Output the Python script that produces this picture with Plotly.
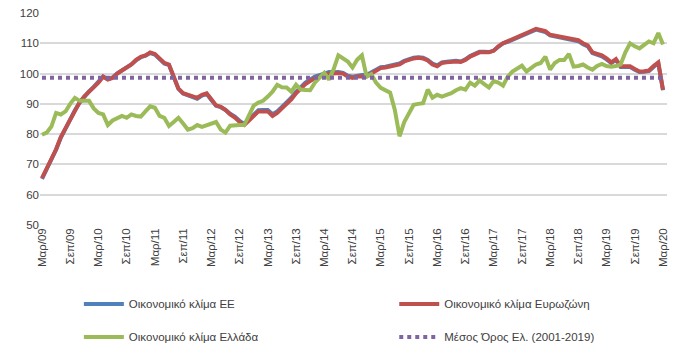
import plotly.graph_objects as go

# Month index 0 = Mar/09 ... 132 = Mar/20
tick_labels = []
for yr in range(9, 21):
    tick_labels.append(f"Μαρ/{yr:02d}")
    if yr < 20:
        tick_labels.append(f"Σεπ/{yr:02d}")
tick_positions = list(range(0, 133, 6))

eurozone = [65.5, 68.5, 72, 75, 79, 82, 85, 88, 90.5, 92.5, 94, 95.5, 97, 99, 98, 98.5,
            100, 101, 102, 103, 104.5, 105.5, 106, 107, 106.5, 105, 103.5, 103, 99, 95,
            93.5, 93, 92.5, 92, 93, 93.5, 91.5, 89.5, 89, 88, 86.5, 85.5, 84, 83, 84.5, 86,
            87.5, 87.5, 87.5, 86, 87, 88.5, 90, 91.5, 93.5, 95, 96.5, 97.5, 98.5, 99, 99.5,
            100, 100, 100.2, 100, 99, 98.6, 99, 99, 99, 100, 101, 101.8, 102, 102.3, 102.5,
            103, 104, 104.6, 105, 105.2, 105, 104.3, 103, 102.4, 103.5, 103.7, 104, 104,
            103.8, 104.5, 105.6, 106.3, 107, 107, 107, 107.5, 109, 110, 110.6, 111.3, 111.8,
            112.7, 113.4, 114, 114.8, 114.4, 114, 112.8, 112.5, 112.4, 112, 111.8, 111.3, 111,
            110, 109.3, 107, 106.5, 106, 105, 103.7, 104.8, 102.4, 102.4, 102.4, 101.5, 100.7,
            100.8, 101, 102.5, 103.7, 94.6]

eu = [65.2, 68.3, 71.8, 74.9, 78.8, 81.9, 84.9, 87.9, 90.4, 92.5, 94.1, 95.6, 97.1, 99, 98.2,
      98.7, 100.1, 101.1, 102, 103, 104.4, 105.4, 105.9, 106.8, 106.3, 104.8, 103.3, 102.8,
      98.9, 95, 93.4, 92.8, 92.2, 91.7, 92.7, 93.3, 91.3, 89.4, 88.9, 88, 86.7, 85.8, 84.4,
      83.4, 84.9, 86.4, 87.9, 88, 88, 86.6, 87.5, 89, 90.5, 92, 94, 95.5, 97, 98, 99, 99.5,
      100, 100.5, 100.4, 100.5, 100.2, 99.3, 99, 99.4, 99.5, 99.5, 100.4, 101.3, 102.1, 102.3,
      102.6, 102.8, 103.3, 104.2, 104.8, 105.2, 105.4, 105.2, 104.5, 103.3, 102.7, 103.7,
      103.9, 104.2, 104.2, 104, 104.7, 105.8, 106.5, 107.2, 107.2, 107.1, 107.6, 109, 110,
      110.5, 111.2, 111.7, 112.5, 113.2, 113.8, 114.5, 114.1, 113.7, 112.6, 112.3, 112.2,
      111.8, 111.5, 111, 110.7, 109.7, 109, 106.8, 106.2, 105.7, 104.7, 103.5, 104.5, 102.2,
      102.2, 102.2, 101.3, 100.5, 100.6, 100.8, 102.2, 103.4, 94.5]

greece = [79.8, 80.5, 82.5, 87, 86.5, 87.5, 90, 92, 91, 91, 91, 88.5, 87, 86.5, 83, 84.5, 85.4,
          86, 85.4, 86.5, 86, 85.8, 87.5, 89.2, 88.7, 86, 85.4, 82.7, 84, 85.4, 83.5, 81.5, 82,
          83, 82.4, 83, 83.5, 84, 81.5, 80.5, 82.8, 83, 83, 83, 86, 89.4, 90.4, 91, 92.4, 94,
          96.3, 95.5, 95.4, 94, 96.3, 94.7, 94.6, 94.5, 97, 98.5, 100.2, 98, 101.5, 106, 104.8,
          104, 102, 104.6, 106, 99, 99.8, 97, 95.3, 94.5, 93.7, 88, 79.3, 84, 87, 89.7, 90,
          90.2, 94.7, 92, 93, 92.4, 93, 93.5, 94.5, 95.2, 94.7, 97, 96, 97.7, 96.5, 95.4, 97.5,
          97, 96, 99, 100.7, 101.5, 102.6, 100.7, 102, 103, 103.5, 105.6, 101.3, 103.5, 104.5,
          104.5, 106.5, 102.3, 102.5, 103, 102, 101.3, 102.5, 103.2, 102.5, 102.3, 102.5, 103,
          107, 110, 109, 108.3, 109.5, 110.6, 110, 113.4, 109.6]

greece_avg_2001_2019 = 98.6

months = list(range(len(eurozone)))
avg_line = [greece_avg_2001_2019] * len(months)

fig = go.Figure()
fig.add_trace(go.Scatter(x=months, y=eu, mode="lines", name="Οικονομικό κλίμα ΕΕ",
                         line=dict(color="#4F81BD", width=4), legend="legend", legendgroup="a"))
fig.add_trace(go.Scatter(x=months, y=eurozone, mode="lines", name="Οικονομικό κλίμα Ευρωζώνη",
                         line=dict(color="#C0504D", width=4), legend="legend2", legendgroup="b"))
fig.add_trace(go.Scatter(x=months, y=greece, mode="lines", name="Οικονομικό κλίμα Ελλάδα",
                         line=dict(color="#9BBB59", width=4), legend="legend", legendgroup="c"))
fig.add_trace(go.Scatter(x=months, y=avg_line, mode="lines", name="Μέσος Όρος Ελ. (2001-2019)",
                         line=dict(color="#8064A2", width=4, dash="dot"), legend="legend2",
                         legendgroup="d"))

font_family = "Liberation Sans, Arial, sans-serif"
legend_common = dict(orientation="v", xanchor="left", yanchor="top", y=-0.304,
                     tracegroupgap=14, itemwidth=40, bgcolor="rgba(0,0,0,0)",
                     font=dict(family=font_family, size=11.5, color="#404040"))

# The page body has an 8px default margin, so the figure is sized 8px smaller
fig.update_layout(
    width=673, height=348,
    margin=dict(l=32, r=14, t=5, b=130.5, autoexpand=False),
    plot_bgcolor="white", paper_bgcolor="white",
    font=dict(family=font_family, size=11.5, color="#595959"),
    xaxis=dict(range=[-0.42, 132.85], tickmode="array", tickvals=tick_positions,
               ticktext=tick_labels, tickangle=-90, showgrid=False, zeroline=False,
               showline=False, ticks="", ticklen=0, automargin=False,
               ticklabeloverflow="allow",
               tickfont=dict(family=font_family, size=11.5, color="#404040")),
    yaxis=dict(range=[50, 120], dtick=10, showgrid=True, gridcolor="#D9D9D9", gridwidth=1.5,
               zeroline=False, showline=False, ticks="", automargin=False,
               ticklabeloverflow="allow",
               tickfont=dict(family=font_family, size=11.5, color="#404040")),
    legend=dict(x=0.062, **legend_common),
    legend2=dict(x=0.565, **legend_common),
    showlegend=True,
)

fig.write_html("out.html")
